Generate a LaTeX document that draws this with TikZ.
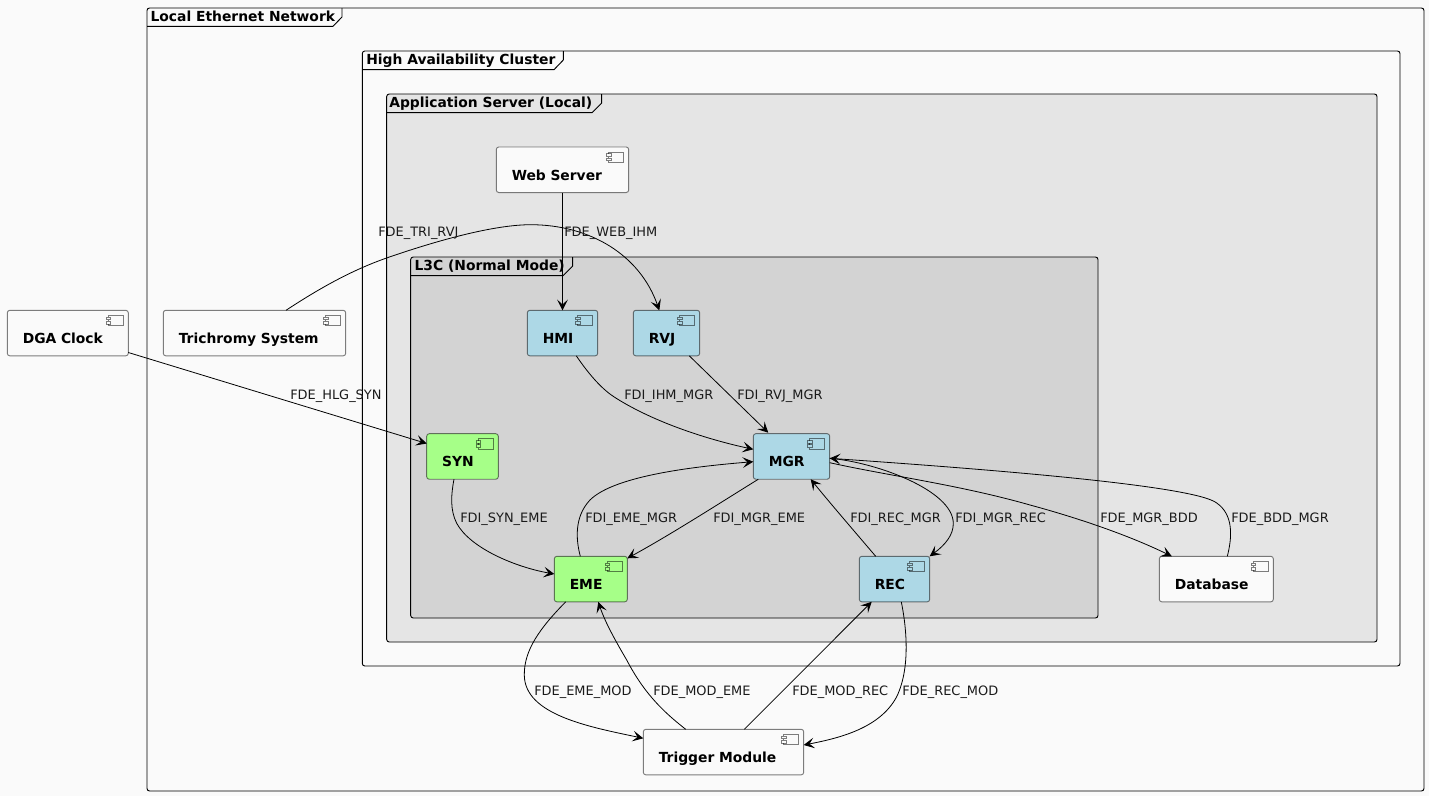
\documentclass[tikz,border=0pt]{standalone}
\usepackage{fontspec}
\setmainfont{DejaVu Sans}
\usepackage{xcolor}
\usepackage{tikz}
\usetikzlibrary{calc,arrows.meta}
\definecolor{page}{HTML}{FAFAFA}
\definecolor{appgray}{HTML}{E5E5E5}
\definecolor{modegray}{HTML}{D3D3D3}
\definecolor{blue}{HTML}{ADD8E6}
\definecolor{green}{HTML}{A6FF88}
\definecolor{ink}{HTML}{1A1A1A}
\tikzset{
  frm/.style={draw=black, line width=0.7pt, rounded corners=1.9pt},
  tab/.style={draw=black, line width=0.7pt},
  ttl/.style={anchor=base west, inner sep=0pt, text=black, font=\fontsize{10.4}{12}\selectfont\bfseries},
  comp/.style={anchor=north west, draw=black, draw opacity=0.5, line width=0.7pt, rounded corners=1.9pt,
    outer sep=0pt, inner xsep=11.6pt, inner ysep=0pt, text height=24.9pt, text depth=9.25pt,
    align=left, text=black, font=\fontsize{10.4}{12}\selectfont\bfseries},
  icon/.style={draw=black, draw opacity=0.5, line width=0.7pt},
  link/.style={draw=black, line width=0.6pt, -{Stealth[length=8pt,width=8pt,inset=3.6pt]}},
  lab/.style={anchor=base west, inner sep=0pt, text=ink, font=\fontsize{9.7}{12}\selectfont}
}
\begin{document}
\begin{tikzpicture}[x=0.75pt,y=-0.75pt]
  \useasboundingbox[fill=page] (0,0) rectangle (1429,796);

  % frames
  \draw[frm] (147,8) rectangle (1424,791);
  \draw[tab] (147,26.3) -- (333,26.3) -- (342,17) -- (342,8);
  \node[ttl] (netttl) at (150.3,21.4) {Local Ethernet Network};

  \draw[frm] (362.3,51) rectangle (1400,666);
  \draw[tab] (362.3,69.7) -- (554,69.7) -- (563.3,60) -- (563.3,51);
  \node[ttl] (hattl) at (366,64.4) {High Availability Cluster};

  \draw[frm,fill=appgray] (386.7,94) rectangle (1377,642);
  \draw[tab] (386.7,112.7) -- (592,112.7) -- (601.7,103) -- (601.7,94);
  \node[ttl] (appttl) at (389,107.4) {Application Server (Local)};

  \draw[frm,fill=modegray] (410.7,257) rectangle (1098,618);
  \draw[tab] (410.7,275.7) -- (563,275.7) -- (572.7,266) -- (572.7,257);
  \node[ttl] (modettl) at (414.3,270.4) {L3C (Normal Mode)};

  % components
  \node[comp,fill=page,text width=67.55pt] (dga) at (7.3,310.3) {DGA Clock};
  \node[comp,fill=page,text width=113.6pt] (tri) at (163.3,310.3) {Trichromy System};
  \node[comp,fill=page,text width=76.1pt] (web) at (496.3,147) {Web Server};
  \node[comp,fill=blue,text width=29.6pt] (hmi) at (527.3,310.3) {HMI};
  \node[comp,fill=blue,text width=26.6pt] (rvj) at (633.3,310.3) {RVJ};
  \node[comp,fill=green,text width=30.5pt] (syn) at (426.7,433.7) {SYN};
  \node[comp,fill=blue,text width=34.1pt] (mgr) at (753.3,433.7) {MGR};
  \node[comp,fill=green,text width=31.55pt] (eme) at (554.3,556.3) {EME};
  \node[comp,fill=blue,text width=29.6pt] (rec) at (859.3,556.3) {REC};
  \node[comp,fill=page,text width=62.3pt] (bdd) at (1159.3,556.3) {Database};
  \node[comp,fill=page,text width=97.1pt] (mod) at (643.3,729.3) {Trigger Module};

  \foreach \n/\c in {dga/page,tri/page,web/page,hmi/blue,rvj/blue,syn/green,mgr/blue,eme/green,rec/blue,bdd/page,mod/page} {
    \draw[icon] ($(\n.north east)+(-20,5)$) rectangle ($(\n.north east)+(-5,15.5)$);
    \draw[icon,fill=\c] ($(\n.north east)+(-22.3,6.8)$) rectangle ($(\n.north east)+(-17.5,9.6)$);
    \draw[icon,fill=\c] ($(\n.north east)+(-22.3,11)$) rectangle ($(\n.north east)+(-17.5,13.8)$);
  }

  % connectors
  \draw[link] ($(dga.north east)+(0,42.2)$) -- ($(syn.north west)+(0,9.8)$);
  \draw[link] ($(tri.north west)+(122.7,0)$) .. controls (320,288) and (352,270) .. (388,257.5)
    .. controls (430,243) and (490,225) .. (530,224.7)
    .. controls (590,224.5) and (640,255) .. ($(rvj.north west)+(26,0)$);
  \draw[link] (web.south) -- (hmi.north);
  \draw[link] ($(hmi.south west)+(49,0)$) .. controls (590,376) and (603,390) .. (615,397.5)
    .. controls (655,423) and (710,440) .. ($(mgr.north west)+(0,15.6)$);
  \draw[link] ($(rvj.south west)+(56,0)$) -- ($(mgr.north west)+(15,-1)$);
  \draw[link] ($(syn.south west)+(27.3,0)$) .. controls (451,495) and (450,510) .. (456.7,523.3)
    .. controls (470,548) and (515,567) .. ($(eme.north west)+(0,17.7)$);
  \draw[link] ($(eme.north west)+(26,0)$) .. controls (576,540) and (574,517) .. (590,500)
    .. controls (615,475) and (700,466) .. ($(mgr.north west)+(0,28)$);
  \draw[link] ($(mgr.south west)+(5,0)$) .. controls (720,503) and (670,535) .. ($(eme.north east)+(0,2)$);
  \draw[link] ($(rec.north west)+(16.4,0)$) .. controls (855,532) and (830,503) .. ($(mgr.south west)+(57.4,0)$);
  \draw[link] ($(mgr.north east)+(0,24.6)$) .. controls (875,462) and (953,490) .. (953.3,523.3)
    .. controls (953.5,535) and (945,545) .. (rec.north east);
  \draw[link] ($(mgr.north east)+(0,29)$) .. controls (890,476) and (960,485) .. (1030,505)
    .. controls (1078,518) and (1128,535) .. ($(bdd.north west)+(12.5,0)$);
  \draw[link] ($(bdd.north west)+(68,0)$) .. controls (1232,538) and (1234,515) .. (1216.7,503)
    .. controls (1195,486) and (1000,470) .. ($(mgr.north east)+(0,24.6)$);
  \draw[link] ($(eme.south west)+(11.4,0)$) .. controls (540,628) and (524,650) .. (524.3,675)
    .. controls (524.5,715) and (590,727) .. ($(mod.north west)+(0,9)$);
  \draw[link] ($(mod.north west)+(42.4,0)$) .. controls (665,713) and (645,695) .. (626.7,660)
    .. controls (615,640) and (605,622) .. ($(eme.south west)+(44,0)$);
  \draw[link] ($(mod.north west)+(101,0)$) -- ($(rec.south west)+(12.4,0)$);
  \draw[link] ($(rec.south west)+(42,0)$) .. controls (905,620) and (912,665) .. (896.7,696.7)
    .. controls (880,728) and (840,738) .. ($(mod.north east)+(0,15.7)$);

  % connector labels
  \node[lab] (lbtri) at (378,236) {FDE\_TRI\_RVJ};
  \node[lab] (lbweb) at (564,236) {FDE\_WEB\_IHM};
  \node[lab] (lbhlg) at (290,399.3) {FDE\_HLG\_SYN};
  \node[lab] (lbihm) at (624,399.3) {FDI\_IHM\_MGR};
  \node[lab] (lbrvj) at (737,399.3) {FDI\_RVJ\_MGR};
  \node[lab] (lbsyn) at (460,522.3) {FDI\_SYN\_EME};
  \node[lab] (lbeme) at (585,522.3) {FDI\_EME\_MGR};
  \node[lab] (lbmgre) at (713,522.3) {FDI\_MGR\_EME};
  \node[lab] (lbrec) at (850,522.3) {FDI\_REC\_MGR};
  \node[lab] (lbmgrr) at (955,522.3) {FDI\_MGR\_REC};
  \node[lab] (lbmgrb) at (1100,522.3) {FDE\_MGR\_BDD};
  \node[lab] (lbbdd) at (1231,522.3) {FDE\_BDD\_MGR};
  \node[lab] (lbemem) at (534,695) {FDE\_EME\_MOD};
  \node[lab] (lbmode) at (653,695) {FDE\_MOD\_EME};
  \node[lab] (lbmodr) at (792,695) {FDE\_MOD\_REC};
  \node[lab] (lbrecm) at (902,695) {FDE\_REC\_MOD};
\end{tikzpicture}
\end{document}
